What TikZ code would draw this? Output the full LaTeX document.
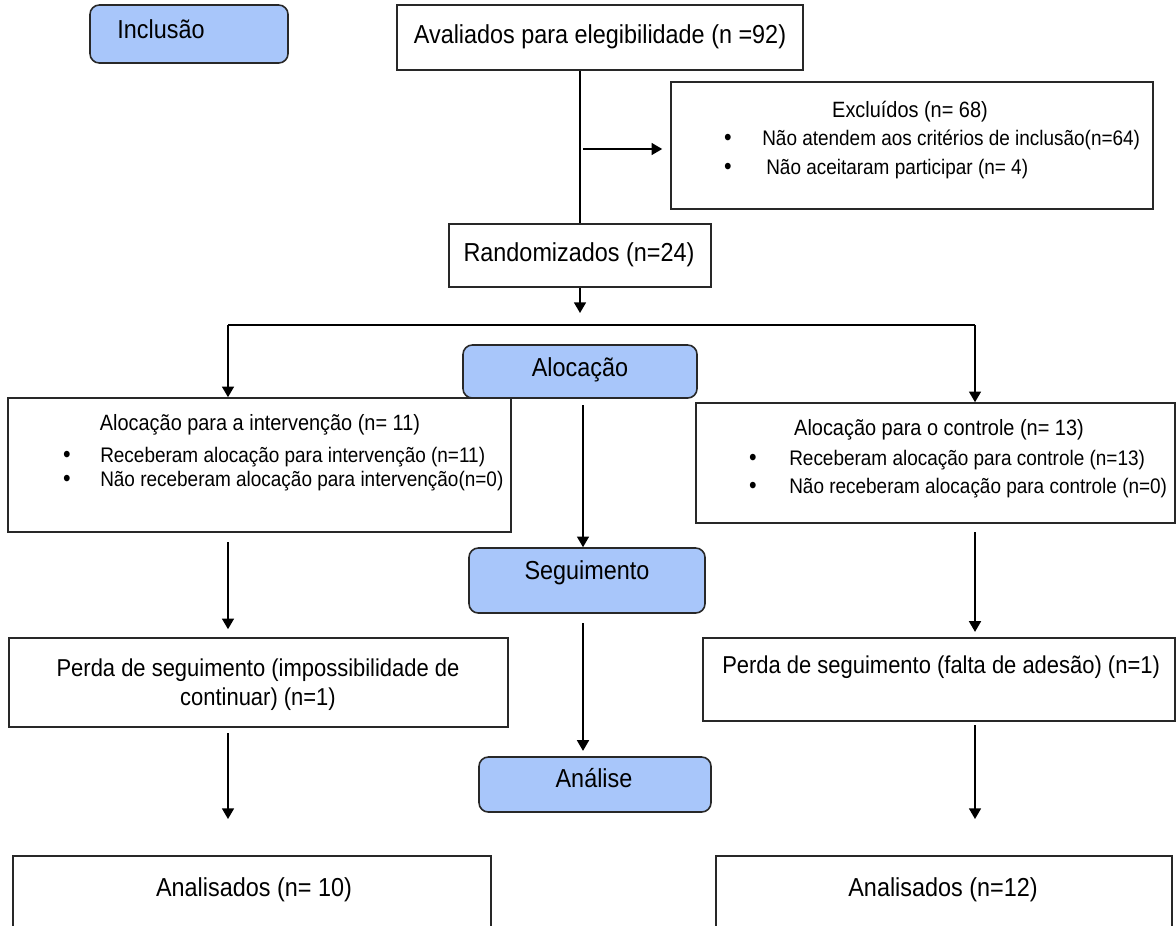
\documentclass[tikz,border=0pt]{standalone}
\usepackage{fontspec}
\setmainfont{Liberation Sans}[FakeStretch=0.9]
\usetikzlibrary{arrows.meta,fit}
\definecolor{phase}{RGB}{168,198,250}
\definecolor{edgec}{RGB}{40,40,40}
\tikzset{
  box/.style={draw=edgec, line width=1.2pt, fill=white, inner sep=0pt},
  phasebox/.style={draw=edgec, line width=1.2pt, fill=phase, rounded corners=7pt, inner sep=0pt},
  conn/.style={draw=black, line width=1.2pt},
  arr/.style={conn, -{Triangle[length=8pt,width=9pt]}},
  big/.style={font=\fontsize{19.5pt}{22pt}\selectfont, inner sep=0pt},
  mid/.style={font=\fontsize{18.3pt}{22pt}\selectfont, inner sep=0pt, align=center},
  ttl/.style={font=\fontsize{16.6pt}{18pt}\selectfont, inner sep=0pt},
  sml/.style={font=\fontsize{15.8pt}{17pt}\selectfont, inner sep=0pt},
  bul/.style={font=\fontsize{18pt}{18pt}\selectfont, inner sep=0pt},
}
\begin{document}
\begin{tikzpicture}[x=0.75pt,y=-0.75pt]
\useasboundingbox (0,0) rectangle (1176,925);
\clip (0,0) rectangle (1176,925);
% boxes
\node[phasebox, fit={(90,5) (288,63)}] (incl) {};
\node[box, fit={(397,5) (803,70)}] (aval) {};
\node[box, fit={(671,82) (1153,209)}] (excl) {};
\node[box, fit={(449,224) (711,287)}] (rand) {};
\node[phasebox, fit={(463,345) (697,398)}] (aloc) {};
\node[box, fit={(8,398) (511,532)}] (la) {};
\node[box, fit={(696,403) (1175,523)}] (ra) {};
\node[phasebox, fit={(469,548) (705,613)}] (seg) {};
\node[box, fit={(9,638) (508,727)}] (lp) {};
\node[box, fit={(703,638) (1175,721)}] (rp) {};
\node[phasebox, fit={(479,757) (711,812)}] (anal) {};
\node[box, fit={(13,856) (491,960)}] (lan) {};
\node[box, fit={(716,856) (1172,960)}] (ran) {};
% texts
\node[big] (tincl) at (161,29) {Inclusão};
\node[big] (taval) at (600,37) {Avaliados para elegibilidade (n =92)};
\node[ttl] (texcl) at (910,112) {Excluídos (n= 68)};
\node[bul] (bx1) at (728,140) {•};
\node[sml, anchor=west] (tx1) at (762,140) {Não atendem aos critérios de inclusão(n=64)};
\node[bul] (bx2) at (728,169) {•};
\node[sml, anchor=west] (tx2) at (766,169) {Não aceitaram participar (n= 4)};
\node[big] (trand) at (579,255) {Randomizados (n=24)};
\node[big] (taloc) at (580,370) {Alocação};
\node[ttl] (tla) at (260,425) {Alocação para a intervenção (n= 11)};
\node[bul] (bl1) at (67,457) {•};
\node[sml, anchor=west] (tl1) at (100,457) {Receberam alocação para intervenção (n=11)};
\node[bul] (bl2) at (67,481) {•};
\node[sml, anchor=west] (tl2) at (100,481) {Não receberam alocação para intervenção(n=0)};
\node[ttl] (tra) at (939,430) {Alocação para o controle (n= 13)};
\node[bul] (br1) at (753,460) {•};
\node[sml, anchor=west] (tr1) at (789,460) {Receberam alocação para controle (n=13)};
\node[bul] (br2) at (753,488) {•};
\node[sml, anchor=west] (tr2) at (789,488) {Não receberam alocação para controle (n=0)};
\node[big] (tseg) at (587,573) {Seguimento};
\node[mid] (tlp) at (258,685) {Perda de seguimento (impossibilidade de\\continuar) (n=1)};
\node[mid, anchor=west] (trp) at (722,667) {Perda de seguimento (falta de adesão) (n=1)};
\node[big] (tanal) at (594,778) {Análise};
\node[big] (tlan) at (254,890) {Analisados (n= 10)};
\node[big] (tran) at (943,890) {Analisados (n=12)};
% connectors
\draw[conn] (rand.north |- aval.south) -- (rand.north);
\coordinate (exs) at (583,149);
\draw[arr, shorten >=6pt] (exs) -- (exs -| excl.west);
\coordinate (rtip) at (580,313);
\draw[arr] (rand.south -| rtip) -- (rtip);
\coordinate (L) at (228,325);
\coordinate (R) at (975,325);
\draw[conn] (L) -- (R);
\draw[arr] (L) -- (L |- la.north);
\draw[arr] (R) -- (R |- ra.north);
\coordinate (c1) at (583,405);
\draw[arr] (c1) -- (c1 |- seg.north);
\coordinate (c2) at (583,623);
\draw[arr, shorten >=4pt] (c2) -- (c2 |- anal.north);
\coordinate (l1) at (228,542);
\draw[arr, shorten >=6pt] (l1) -- (l1 |- lp.north);
\coordinate (r1) at (975,532);
\draw[arr, shorten >=4pt] (r1) -- (r1 |- rp.north);
\coordinate (l2) at (228,733);
\coordinate (l2t) at (228,819);
\draw[arr] (l2) -- (l2t);
\coordinate (r2) at (975,725);
\coordinate (r2t) at (975,819);
\draw[arr] (r2) -- (r2t);
\end{tikzpicture}
\end{document}
